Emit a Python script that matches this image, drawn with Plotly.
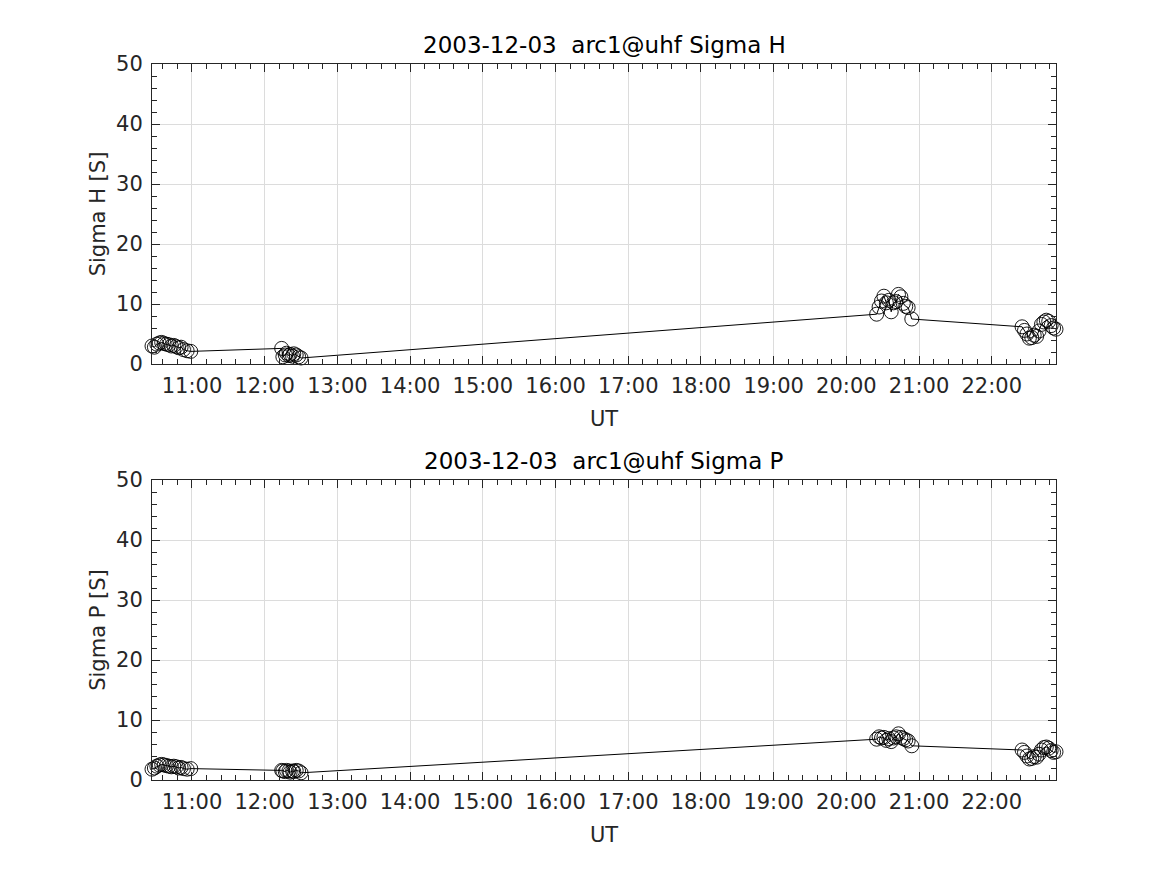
import plotly.graph_objects as go

DATE = "2003-12-03"

times = ["10:27", "10:29", "10:31", "10:33", "10:35", "10:37", "10:39", "10:41",
         "10:43", "10:45", "10:47", "10:49", "10:51", "10:53", "10:56", "10:59",
         "12:14", "12:15", "12:17", "12:18", "12:20", "12:21", "12:23", "12:24",
         "12:26", "12:28", "12:30",
         "20:25", "20:27", "20:29", "20:31", "20:33", "20:35", "20:37", "20:39",
         "20:41", "20:43", "20:45", "20:47", "20:49", "20:51", "20:54",
         "22:25", "22:27", "22:29", "22:31", "22:33", "22:35", "22:37", "22:39",
         "22:41", "22:43", "22:45", "22:47", "22:49", "22:51", "22:53"]

sigma_h = [3.0, 2.8, 3.3, 3.5, 3.6, 3.4, 3.3, 3.2, 3.0, 3.1, 2.9, 2.7, 2.8, 2.4, 2.2, 2.1,
           2.6, 1.2, 1.5, 1.8, 1.4, 1.6, 1.3, 1.7, 1.5, 1.2, 1.0,
           8.3, 9.5, 10.5, 11.3, 10.2, 10.6, 8.7, 10.2, 10.4, 11.6, 11.2, 10.1, 9.6, 9.4, 7.5,
           6.2, 5.6, 5.0, 4.3, 4.4, 4.8, 4.6, 5.5, 6.6, 7.0, 7.3, 7.1, 6.4, 6.0, 5.8]

sigma_p = [1.8, 2.0, 2.3, 2.5, 2.6, 2.5, 2.4, 2.3, 2.2, 2.3, 2.2, 2.0, 2.1, 1.9, 1.8, 1.9,
           1.6, 1.5, 1.4, 1.6, 1.5, 1.3, 1.5, 1.4, 1.6, 1.5, 1.2,
           6.8, 7.2, 7.0, 7.1, 6.6, 6.9, 6.4, 7.0, 7.2, 7.7, 7.1, 6.9, 6.7, 6.5, 5.7,
           5.0, 4.6, 4.0, 3.5, 3.6, 3.9, 3.8, 4.3, 5.0, 5.4, 5.5, 5.3, 4.9, 4.6, 4.7]

titles = ["2003-12-03\u00a0\u00a0arc1@uhf Sigma H", "2003-12-03\u00a0\u00a0arc1@uhf Sigma P"]
ylabels = ["Sigma H [S]", "Sigma P [S]"]
tick_hours = ["11:00", "12:00", "13:00", "14:00", "15:00", "16:00", "17:00", "18:00",
              "19:00", "20:00", "21:00", "22:00"]
y_range = [0, 50]

xs = [f"{DATE} {t}" for t in times]
FONT = "DejaVu Sans"
DARK = "#262626"
PAD = 8  # default page body margin
W, H = 1167 - 2 * PAD, 875 - 2 * PAD
L, R, T, B = 152 - PAD, 1056 - PAD, 64 - PAD, 780 - PAD  # plot area box within figure
ph = B - T

fig = go.Figure()
for i, vals in enumerate([sigma_h, sigma_p]):
    sfx = "" if i == 0 else str(i + 1)
    fig.add_trace(go.Scatter(
        x=xs, y=vals, mode="lines+markers",
        line=dict(color="black", width=1),
        marker=dict(symbol="circle-open", size=14, color="black", line=dict(width=0.9)),
        xaxis="x" + sfx, yaxis="y" + sfx, showlegend=False, cliponaxis=False))

y_doms = [[1 - 300 / ph, 1], [0, 300 / ph]]

common_x = dict(
    type="date", range=[xs[0], xs[-1]], tickmode="array",
    tickvals=[f"{DATE} {t}" for t in tick_hours], ticktext=tick_hours,
    ticks="inside", ticklen=8, tickwidth=1, tickcolor=DARK,
    showline=True, linecolor=DARK, linewidth=1, mirror="allticks",
    showgrid=True, gridcolor="#dcdcdc", gridwidth=1, zeroline=False,
    tickfont=dict(family=FONT, size=21, color=DARK), automargin=False,
    ticklabelstandoff=3,
    minor=dict(dtick=12 * 60000, tick0=f"{DATE} 11:00", ticks="inside", ticklen=5,
               tickcolor=DARK, showgrid=False),
    title=dict(text="UT", font=dict(family=FONT, size=21, color=DARK), standoff=14),
)
common_y = dict(
    range=y_range, dtick=10, tick0=0,
    ticks="inside", ticklen=8, tickwidth=1, tickcolor=DARK,
    showline=True, linecolor=DARK, linewidth=1, mirror="allticks",
    showgrid=True, gridcolor="#dcdcdc", gridwidth=1, zeroline=False,
    tickfont=dict(family=FONT, size=21, color=DARK), automargin=False,
    ticklabelstandoff=4,
    minor=dict(dtick=2, ticks="inside", ticklen=5, tickcolor=DARK, showgrid=False),
)

layout = dict(
    width=W, height=H, paper_bgcolor="white", plot_bgcolor="white",
    margin=dict(l=L, r=W - R, t=T, b=H - B, autoexpand=False), showlegend=False,
)
annotations = []
for i in range(2):
    sfx = "" if i == 0 else str(i + 1)
    layout["xaxis" + sfx] = dict(common_x, domain=[0, 1], anchor="y" + sfx)
    layout["yaxis" + sfx] = dict(common_y, domain=y_doms[i], anchor="x" + sfx,
                                 title=dict(text=ylabels[i],
                                            font=dict(family=FONT, size=21, color=DARK),
                                            standoff=4))
    annotations.append(dict(
        text=titles[i], x=0.5, y=y_doms[i][1], xref="paper",
        yref="paper", xanchor="center", yanchor="bottom", yshift=4, showarrow=False,
        font=dict(family=FONT, size=23, color="black")))
layout["annotations"] = annotations
fig.update_layout(**layout)

fig.write_html("out.html")
